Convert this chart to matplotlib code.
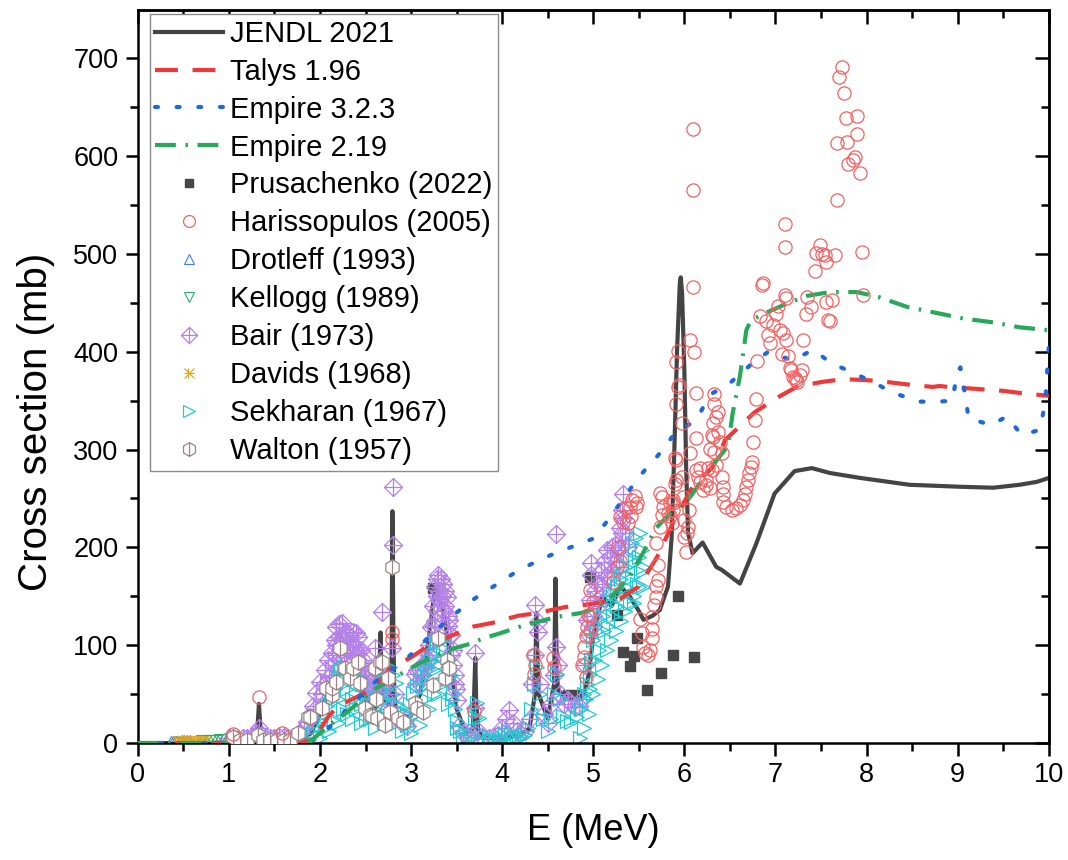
import numpy as np
import matplotlib
matplotlib.use("Agg")
import matplotlib.pyplot as plt
from matplotlib.path import Path
from matplotlib.ticker import MultipleLocator

plt.rcParams['font.family'] = ['Liberation Sans', 'DejaVu Sans']

# ---------------- data ----------------
jendl_e = [0, 0.5, 1.0, 1.28, 1.31, 1.33, 1.35, 1.38, 1.6, 1.8, 1.9, 2.0, 2.1, 2.2, 2.25, 2.3, 2.4, 2.45, 2.5,
           2.6, 2.64, 2.665, 2.675, 2.70, 2.76, 2.785, 2.795, 2.805, 2.815, 2.84, 2.9, 3.0, 3.1, 3.2, 3.25,
           3.3, 3.35, 3.4, 3.45, 3.5, 3.6, 3.68, 3.705, 3.715, 3.74, 3.8, 4.0, 4.2, 4.3, 4.36, 4.375, 4.385,
           4.40, 4.5, 4.57, 4.585, 4.595, 4.61, 4.7, 4.8, 4.9, 4.95, 5.0, 5.05, 5.1, 5.2, 5.3, 5.4, 5.5,
           5.55, 5.65, 5.73, 5.82, 5.86, 5.89, 5.92, 5.95, 5.96, 5.975, 6.0, 6.02, 6.04, 6.09, 6.2, 6.35,
           6.41, 6.61, 6.79, 6.99, 7.21, 7.4, 7.6, 7.93, 8.47, 9.02, 9.39, 9.68, 9.87, 10.0]
jendl_s = [0, 0, 0.5, 1, 10, 40, 10, 2, 2, 4, 10, 30, 55, 70, 72, 65, 60, 55, 45,
           35, 40, 113, 60, 45, 40, 60, 237, 120, 50, 30, 25, 28, 50, 110, 150,
           150, 135, 110, 70, 35, 10, 15, 87, 40, 12, 5, 5, 8, 15, 50, 133, 90,
           50, 25, 60, 168, 100, 55, 45, 48, 50, 70, 110, 130, 150, 140, 160, 150, 135,
           126, 130, 136, 160, 210, 300, 402, 470, 476, 460, 380, 280, 215, 194, 205, 180,
           177, 163, 204, 255, 278, 281, 276, 271, 264, 262, 261, 264, 267, 271]

talys_e = [0, 1.5, 1.8, 1.9, 2.0, 2.1, 2.2, 2.38, 2.55, 2.7, 2.77, 2.99, 3.2, 3.45, 3.68, 3.9, 4.17, 4.39,
           4.69, 4.89, 5.1, 5.3, 5.5, 5.7, 5.9, 6.09, 6.31, 6.45, 6.77, 7.0, 7.23, 7.5, 7.74, 8.0, 8.23,
           8.5, 8.73, 8.8, 8.9, 9.21, 9.5, 9.76, 10.0]
talys_s = [0, 0, 0, 4, 14, 28, 38, 46, 54, 68, 77, 87, 100, 110, 119, 123, 130, 133,
           139, 141, 144, 148, 160, 190, 230, 262, 282, 310, 338, 352, 364, 369, 372, 371, 369,
           366, 364, 365, 364, 362, 360, 357, 355]

emp3_e = [0, 1.5, 1.9, 2.08, 2.3, 2.6, 2.96, 3.18, 3.4, 3.67, 3.92, 4.17, 4.45, 4.72, 5.0, 5.18, 5.5,
          5.71, 5.9, 6.13, 6.28, 6.5, 6.72, 6.92, 7.19, 7.41, 7.62, 7.84, 8.07, 8.29, 8.58, 8.8, 8.94,
          9.0, 9.03, 9.08, 9.12, 9.37, 9.54, 9.7, 9.9, 9.96, 10.0]
emp3_s = [0, 0, 2, 14, 35, 62, 87, 107, 126, 146, 161, 176, 189, 199, 209, 230, 272,
          294, 317, 330, 356, 368, 386, 400, 391, 402, 388, 379, 369, 358, 349, 349, 350,
          380, 384, 357, 332, 325, 334, 315, 320, 347, 405]

emp2_e = [0, 1.5, 1.9, 2.07, 2.29, 2.6, 3.06, 3.4, 3.67, 3.79, 3.97, 4.23, 4.6, 4.87, 5.0, 5.2, 5.4,
          5.55, 5.69, 5.88, 6.06, 6.28, 6.48, 6.53, 6.61, 6.68, 6.73, 6.9, 7.12, 7.34, 7.6, 7.89, 8.13,
          8.44, 8.75, 9.06, 9.39, 9.68, 10.0]
emp2_s = [0, 0, 2, 16, 31, 55, 80, 95, 102, 107, 112, 120, 129, 133, 137, 150, 170,
          195, 220, 238, 251, 280, 304, 337, 375, 422, 432, 440, 449, 457, 461, 461, 456,
          446, 440, 434, 430, 425, 422]

prus_e = [3.24, 4.72, 4.82, 4.96, 5.26, 5.33, 5.40, 5.45, 5.48, 5.59, 5.74, 5.88, 5.93, 6.11]
prus_s = [158, 49, 49, 170, 131, 93, 79, 89, 107, 54, 72, 90, 150, 88]

harr_e = [1.04, 1.33, 1.58, 2.79, 2.79, 3.69, 4.34, 4.36, 4.35, 4.56, 4.57,
          4.88, 4.9, 4.92, 4.9, 4.92, 4.93, 4.96, 4.96, 4.94, 5.0, 4.96, 5.22, 5.26, 5.27, 5.29,
          5.33, 5.29, 5.36, 5.38, 5.41, 5.4, 5.43, 5.46, 5.47, 5.48,
          5.51, 5.53, 5.55, 5.57, 5.6, 5.62, 5.64, 5.65, 5.65, 5.67, 5.69, 5.69, 5.71, 5.71, 5.69,
          5.73, 5.75, 5.76, 5.75, 5.73, 5.82, 5.84, 5.84, 5.87, 5.87, 5.88, 5.86, 5.9, 5.91, 5.9,
          5.91, 5.91, 5.93, 5.91, 5.93, 5.94, 5.97, 5.97, 5.98, 6.0, 6.0, 6.02, 6.03, 6.04, 6.05,
          6.06, 6.06, 6.11, 6.09, 6.09, 6.09, 6.13, 6.13, 6.13, 6.17, 6.15, 6.17, 6.2, 6.24, 6.24,
          6.26, 6.28, 6.28, 6.3, 6.3, 6.31, 6.31, 6.33, 6.33, 6.33, 6.35, 6.35, 6.37, 6.37, 6.39,
          6.41, 6.41, 6.42, 6.42, 6.42, 6.46, 6.52, 6.57, 6.61, 6.64, 6.66, 6.68, 6.7, 6.71, 6.73,
          6.74, 6.75, 6.77, 6.79, 6.8, 6.83, 6.85, 6.86, 6.9, 6.92, 6.94, 6.97, 7.01, 7.03, 7.1,
          7.12, 7.05, 7.08, 7.12, 7.07, 7.14, 7.16, 7.17, 7.19, 7.21, 7.23, 7.24, 7.27, 7.29, 7.3,
          7.11, 7.11, 7.33, 7.35, 7.39, 7.43, 7.45, 7.49, 7.51, 7.54, 7.56, 7.56, 7.58, 7.6, 7.62,
          7.65, 7.67, 7.68, 7.7, 7.73, 7.75, 7.77, 7.79, 7.8, 7.85, 7.87, 7.89, 7.9, 7.93, 7.95, 7.96]
harr_s = [9, 47, 10, 114, 106, 33, 90, 80, 71, 87, 78,
          80, 88, 68, 98, 109, 119, 129, 115, 131, 144, 156, 165, 180, 200, 186,
          226, 231, 240, 225, 232, 241, 248, 253, 241, 245,
          127, 112, 98, 92, 90, 95, 107, 117, 129, 141, 149, 161, 167, 182, 204,
          221, 233, 241, 251, 256, 235, 245, 232, 238, 245, 248, 225, 265, 269, 291,
          289, 347, 364, 389, 401, 366, 327, 272, 251, 228, 211, 195, 215, 221, 238,
          296, 412, 400, 466, 565, 628, 358, 312, 279, 267, 272, 281, 259, 264, 269,
          281, 261, 301, 315, 279, 327, 313, 297, 347, 357, 333, 284, 318, 338, 308,
          296, 272, 262, 255, 246, 241, 238, 240, 243, 248, 255, 262, 269, 276, 282,
          287, 308, 330, 352, 391, 437, 468, 470, 431, 417, 409, 427, 439, 447, 458,
          455, 422, 419, 412, 398, 396, 383, 381, 374, 373, 371, 369, 376, 381, 412,
          531, 507, 439, 456, 446, 483, 501, 509, 500, 499, 492, 451, 432, 431, 453,
          499, 555, 613, 681, 691, 664, 639, 614, 592, 596, 599, 623, 641, 583, 502, 458]

drot_e = [0.36, 0.39, 0.42, 0.45, 0.48, 0.51, 0.54, 0.57]
drot_s = [1, 1, 1.5, 1.5, 2, 2, 2, 2]

kell_e = [0.70, 0.74, 0.78, 0.82, 0.86, 0.90, 0.94]
kell_s = [2, 2, 2, 2.5, 2.5, 3, 3]

# Bair (1973): upper envelope points
bair_e = [1.00, 1.05, 1.10, 1.15, 1.20, 1.25, 1.30, 1.33, 1.36, 1.40, 1.45, 1.50, 1.55, 1.60, 1.65, 1.70,
          1.75, 1.78, 1.82, 1.86, 1.89, 1.92, 1.96, 2.00, 2.05, 2.09, 2.13, 2.16, 2.18, 2.21, 2.24, 2.27,
          2.29, 2.32, 2.36, 2.39, 2.42, 2.45, 2.47, 2.49, 2.51, 2.53, 2.56, 2.58, 2.60, 2.62, 2.64, 2.66,
          2.68, 2.70, 2.73, 2.75, 2.77, 2.79, 2.80, 2.80, 2.82, 2.85, 2.90, 2.95, 3.00, 3.04, 3.07, 3.10,
          3.13, 3.17, 3.20, 3.22, 3.24, 3.26, 3.28, 3.30, 3.33, 3.35, 3.37, 3.39, 3.42, 3.44, 3.46, 3.48,
          3.50, 3.53, 3.57, 3.62, 3.66, 3.70, 3.70, 3.73, 3.78, 3.85, 3.90, 3.95, 4.00, 4.04, 4.08, 4.12,
          4.16, 4.20, 4.25, 4.30, 4.33, 4.36, 4.36, 4.39, 4.39, 4.42, 4.46, 4.50, 4.54, 4.57, 4.59, 4.59,
          4.61, 4.64, 4.68, 4.72, 4.76, 4.80, 4.84, 4.88, 4.91, 4.93, 4.96, 4.98, 4.98, 5.02, 5.04, 5.08,
          5.12, 5.15, 5.18, 5.21, 5.24, 5.27, 5.29, 5.31, 5.33]
bair_s = [5, 5, 4, 5, 5, 6, 10, 15, 8, 5, 5, 5, 6, 6, 5, 6,
          8, 10, 15, 22, 27, 38, 51, 62, 75, 85, 92, 105, 119, 122, 123, 112,
          108, 110, 113, 112, 108, 95, 85, 75, 65, 54, 45, 50, 97, 70, 60, 55,
          134, 60, 45, 35, 24, 97, 202, 262, 50, 30, 20, 17, 30, 71, 75, 75,
          80, 85, 100, 119, 140, 160, 168, 172, 168, 163, 155, 149, 126, 110, 95, 70,
          44, 17, 10, 6, 8, 36, 92, 12, 6, 5, 6, 8, 15, 25, 34, 20,
          12, 10, 12, 25, 60, 90, 141, 124, 113, 60, 30, 20, 40, 70, 98, 214,
          80, 50, 40, 44, 40, 37, 38, 45, 80, 126, 146, 172, 184, 155, 163, 175,
          185, 197, 190, 200, 202, 197, 220, 238, 255]
# Bair (1973): points inside the band
bair_in_e = [1.95, 2.02, 2.06, 2.10, 2.12, 2.14, 2.18, 2.18, 2.21, 2.22, 2.24, 2.26, 2.27, 2.30, 2.30,
             2.33, 2.35, 2.36, 2.39, 2.40, 2.42, 2.44, 2.45, 2.48, 2.48, 2.51, 2.52, 2.62, 2.66, 2.70,
             3.05, 3.10, 3.12, 3.16, 3.20, 3.20, 3.23, 3.25, 3.26, 3.28, 3.29, 3.31, 3.32, 3.34, 3.36,
             3.37, 3.40, 3.40, 3.43, 3.44, 3.46, 3.48, 3.49,
             4.95, 5.00, 5.00, 5.05, 5.10, 5.10, 5.15, 5.20, 5.20, 5.25, 5.28, 5.30, 5.32, 5.33, 5.35, 5.38]
bair_in_s = [35, 50, 60, 68, 70, 80, 100, 90, 108, 100, 105, 92, 98, 95, 88,
             98, 92, 100, 98, 90, 92, 80, 82, 70, 62, 58, 45, 60, 70, 55,
             60, 60, 70, 78, 90, 85, 105, 120, 125, 135, 150, 155, 145, 150, 135,
             140, 130, 120, 110, 90, 80, 60, 55,
             110, 120, 130, 140, 160, 150, 170, 175, 170, 185, 180, 200, 215, 230, 215, 200]

davids_e = [0.42, 0.45, 0.48, 0.51, 0.54, 0.57, 0.60, 0.63, 0.66, 0.69, 0.72, 0.75]
davids_s = [2, 2, 2, 2, 2, 2.5, 2.5, 2.5, 2, 2, 2, 2]

# Sekharan (1967): upper envelope points
sekh_e = [1.88, 1.92, 1.96, 2.00, 2.04, 2.08, 2.12, 2.16, 2.20, 2.23, 2.26, 2.29, 2.33, 2.37, 2.42, 2.46,
          2.51, 2.54, 2.57, 2.60, 2.63, 2.66, 2.68, 2.71, 2.74, 2.77, 2.80, 2.84, 2.88, 2.92, 2.95, 2.99,
          3.02, 3.06, 3.10, 3.14, 3.18, 3.22, 3.25, 3.28, 3.32, 3.35, 3.38, 3.42, 3.44, 3.46, 3.48, 3.50,
          3.54, 3.57, 3.62, 3.67, 3.70, 3.72, 3.75, 3.78, 3.85, 3.92, 4.00, 4.06, 4.10, 4.16, 4.22, 4.28,
          4.32, 4.35, 4.38, 4.41, 4.45, 4.50, 4.54, 4.57, 4.60, 4.63, 4.67, 4.71, 4.76, 4.82, 4.86, 4.90,
          4.93, 4.96, 4.98, 5.00, 5.04, 5.07, 5.11, 5.14, 5.18, 5.22, 5.26, 5.30, 5.33, 5.36, 5.40, 5.43,
          5.47, 5.51, 5.53, 5.55, 5.48, 5.45]
sekh_s = [3, 10, 16, 23, 30, 38, 44, 55, 68, 75, 78, 78, 75, 70, 67, 60,
          51, 40, 31, 35, 45, 55, 70, 75, 78, 78, 70, 61, 37, 30, 30, 40,
          51, 58, 64, 70, 78, 84, 90, 102, 105, 105, 95, 85, 70, 51, 35, 23,
          12, 6, 4, 8, 26, 41, 26, 10, 4, 3, 5, 12, 8, 5, 6, 15,
          35, 60, 78, 50, 25, 12, 25, 50, 71, 45, 28, 23, 22, 27, 35, 50,
          60, 71, 85, 105, 115, 126, 130, 140, 146, 152, 160, 168, 173, 180, 190, 204,
          210, 215, 197, 180, 163, 143]
# Sekharan (1967): points inside the band
sekh_in_e = [2.00, 2.05, 2.10, 2.15, 2.20, 2.20, 2.25, 2.25, 2.30, 2.30, 2.35, 2.35, 2.40, 2.40, 2.45, 2.45,
             2.50, 2.50, 2.55, 2.60, 2.65, 2.70, 2.70, 2.75, 2.75, 2.80, 2.80, 2.85, 2.85, 2.90, 2.95,
             3.00, 3.05, 3.10, 3.15, 3.20, 3.20, 3.25, 3.25, 3.30, 3.30, 3.35, 3.35, 3.40, 3.40, 3.45,
             3.50, 3.88, 3.96, 4.03, 4.13, 4.19, 4.25,
             4.85, 4.90, 4.92, 4.95, 4.96, 5.00, 5.02, 5.05, 5.06, 5.10, 5.12, 5.15, 5.16, 5.20, 5.22,
             5.25, 5.26, 5.30, 5.32, 5.35, 5.36, 5.40, 5.42, 5.45, 5.46, 5.50, 5.50, 5.52, 5.55]
sekh_in_s = [5, 15, 12, 25, 20, 45, 60, 35, 30, 55, 45, 25, 35, 50, 40, 20,
             25, 35, 25, 15, 30, 20, 45, 65, 35, 25, 50, 40, 20, 12, 18,
             10, 30, 18, 45, 35, 60, 75, 50, 50, 80, 90, 60, 40, 65, 45,
             15, 3, 4, 8, 6, 5, 8,
             5, 15, 45, 30, 55, 50, 85, 65, 95, 80, 115, 95, 120, 105, 130,
             115, 140, 125, 150, 135, 160, 143, 170, 150, 185, 160, 190, 175, 160]

walt_e = [1.04, 1.12, 1.2, 1.32, 1.37, 1.45, 1.53, 1.6, 1.67, 1.76, 1.87, 1.89, 2.02, 2.07, 2.13, 2.13,
          2.18, 2.22, 2.27, 2.33, 2.36, 2.42, 2.44, 2.49, 2.55, 2.57, 2.6, 2.61, 2.63, 2.66, 2.68, 2.71,
          2.75, 2.77, 2.79, 2.86, 2.91, 3.04, 3.07, 3.13, 3.24, 3.3, 3.37, 3.39, 3.41, 3.42]
walt_s = [6, 3, 3, 8, 3, 3, 3, 3, 3, 10, 27, 27, 36, 56, 49, 56,
          62, 97, 77, 66, 77, 83, 61, 36, 29, 28, 77, 45, 26, 83, 83, 18,
          66, 32, 180, 26, 21, 41, 36, 32, 59, 107, 66, 85, 77, 77]

# ---------------- custom markers ----------------
M, L = Path.MOVETO, Path.LINETO
diamond_plus = Path([(0, 1), (1, 0), (0, -1), (-1, 0), (0, 1), (0, 1), (0, -1), (-1, 0), (1, 0)],
                    [M, L, L, L, L, M, L, M, L])
hx = [(np.cos(np.radians(90 + 60 * k)), np.sin(np.radians(90 + 60 * k))) for k in range(6)]
hex_bar = Path(hx + [hx[0], (0, 1), (0, -1)], [M, L, L, L, L, L, L, M, L])
x_bar = Path([(-1, -1), (1, 1), (-1, 1), (1, -1), (-0.2, -1), (-0.2, 1), (-1, 0), (1, 0)],
             [M, L, M, L, M, L, M, L])

# ---------------- figure ----------------
fig = plt.figure(figsize=(10.68, 8.60), dpi=100)
ax = fig.add_axes([0.129, 0.136, 0.853, 0.852])

c_jendl = '#444444'
c_talys = '#ec3a3a'
c_emp3 = '#1f68d8'
c_emp2 = '#27a85a'
c_bair = '#b481ea'
c_sekh = '#22c9d1'

mk = dict(linestyle='none', markerfacecolor='none')

ax.plot(jendl_e, jendl_s, color=c_jendl, lw=3.0, zorder=1.5, label='JENDL 2021')
ax.plot(prus_e, prus_s, linestyle='none', marker='s', markersize=7, color='#474747', zorder=1.6,
        label='Prusachenko (2022)')

ax.plot(bair_in_e, bair_in_s, marker=diamond_plus, markersize=13, markeredgecolor=c_bair,
        markeredgewidth=0.9, zorder=2, **mk)
ax.plot(bair_e, bair_s, marker=diamond_plus, markersize=13, markeredgecolor=c_bair, markeredgewidth=0.9,
        zorder=2, label='Bair (1973)', **mk)
ax.plot(sekh_in_e, sekh_in_s, marker='>', markersize=10, markeredgecolor=c_sekh, markeredgewidth=0.9,
        zorder=2.1, **mk)
ax.plot(sekh_e, sekh_s, marker='>', markersize=10, markeredgecolor=c_sekh, markeredgewidth=0.9,
        zorder=2.1, label='Sekharan (1967)', **mk)
ax.plot(drot_e, drot_s, marker='^', markersize=8, markeredgecolor='#3f7fe6', markeredgewidth=0.8,
        zorder=2.2, label='Drotleff (1993)', **mk)
ax.plot(kell_e, kell_s, marker='v', markersize=8, markeredgecolor='#30ab70', markeredgewidth=0.8,
        zorder=2.2, label='Kellogg (1989)', **mk)
ax.plot(davids_e, davids_s, marker=x_bar, markersize=8, markeredgecolor='#d9a520', markeredgewidth=0.8,
        zorder=2.3, label='Davids (1968)', **mk)

ax.plot(talys_e, talys_s, color=c_talys, lw=3.0, dashes=(5.5, 3.5), zorder=3.1, label='Talys 1.96')
ax.plot(emp3_e, emp3_s, color=c_emp3, lw=3.0, dashes=(0.7, 4.5), dash_capstyle='round', zorder=3.2,
        label='Empire 3.2.3')
ax.plot(emp2_e, emp2_s, color=c_emp2, lw=3.0, dashes=(5.0, 2.3, 0.6, 2.3), zorder=3.3,
        label='Empire 2.19')

ax.plot(walt_e, walt_s, linestyle='none', marker=hex_bar, markersize=11, markerfacecolor='white',
        markeredgecolor='#9c8585', markeredgewidth=0.9, zorder=4, label='Walton (1957)')
ax.plot(harr_e, harr_s, marker='o', markersize=9.5, markeredgecolor='#f26262', markeredgewidth=0.9,
        zorder=4.1, label='Harissopulos (2005)', **mk)

ax.set_xlim(0, 10)
ax.set_ylim(0, 749)
ax.xaxis.set_major_locator(MultipleLocator(1))
ax.xaxis.set_minor_locator(MultipleLocator(0.5))
ax.yaxis.set_major_locator(MultipleLocator(100))
ax.yaxis.set_minor_locator(MultipleLocator(50))

for sp in ax.spines.values():
    sp.set_linewidth(1.8)
ax.tick_params(which='both', direction='out', width=1.8, labelsize=19.5, pad=5)
ax.tick_params(which='major', length=9)
ax.tick_params(which='minor', length=5.5)
axt = ax.secondary_xaxis('top')
axt.xaxis.set_major_locator(MultipleLocator(1))
axt.xaxis.set_minor_locator(MultipleLocator(0.5))
axt.tick_params(which='both', direction='in', width=1.8, labeltop=False)
axt.tick_params(which='major', length=10)
axt.tick_params(which='minor', length=6)
axt.spines['top'].set_linewidth(1.8)
axr = ax.secondary_yaxis('right')
axr.yaxis.set_major_locator(MultipleLocator(100))
axr.yaxis.set_minor_locator(MultipleLocator(50))
axr.tick_params(which='both', direction='in', width=1.8, labelright=False)
axr.tick_params(which='major', length=10)
axr.tick_params(which='minor', length=6)
axr.spines['right'].set_linewidth(1.8)

ax.set_xlabel('E (MeV)', fontsize=26, labelpad=18)
ax.set_ylabel('Cross section (mb)', fontsize=29)
ax.yaxis.set_label_coords(-0.091, 0.439)

order = ['JENDL 2021', 'Talys 1.96', 'Empire 3.2.3', 'Empire 2.19', 'Prusachenko (2022)',
         'Harissopulos (2005)', 'Drotleff (1993)', 'Kellogg (1989)', 'Bair (1973)', 'Davids (1968)',
         'Sekharan (1967)', 'Walton (1957)']
hmap = {h.get_label(): h for h in ax.get_lines()}
leg = ax.legend([hmap[k] for k in order], order, loc='upper left', bbox_to_anchor=(0.013, 0.995),
                borderaxespad=0, fontsize=21, frameon=True, fancybox=False, edgecolor='#8a8a8a',
                framealpha=1, handlelength=2.3, handletextpad=0.25, labelspacing=0.34, borderpad=0.2,
                markerscale=0.9)
leg.get_frame().set_linewidth(1.0)
leg.set_zorder(10)

fig.savefig('out.png', dpi=100)
